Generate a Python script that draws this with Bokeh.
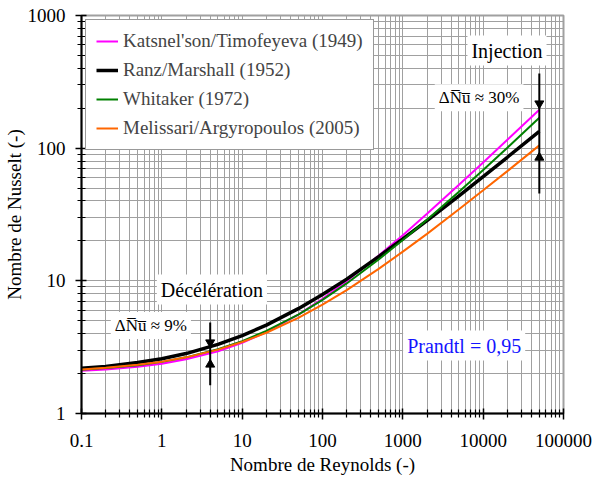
from bokeh.plotting import figure
from bokeh.models import FixedTicker, CustomJSTickFormatter, Legend, LegendItem, Label
from bokeh.embed import file_html
from bokeh.resources import INLINE

# Reynolds numbers (x) and Nusselt numbers (y)
reynolds = [0.1, 0.2, 0.5, 1, 2, 5, 10, 20, 50, 100, 200, 500, 1000, 2000, 5000, 10000, 20000, 50000]
nu_katsnelson = [2.10, 2.15, 2.25, 2.37, 2.56, 2.94, 3.41, 4.10, 5.57, 7.32, 9.94, 15.5, 22.1, 32.0, 53.0, 78.1, 115.6, 195.0]
nu_ranz = [2.19, 2.26, 2.42, 2.59, 2.83, 3.32, 3.87, 4.64, 6.17, 7.90, 10.3, 15.2, 20.7, 28.4, 43.7, 61.0, 85.4, 134.0]
nu_whitaker = [2.14, 2.20, 2.31, 2.45, 2.65, 3.05, 3.51, 4.19, 5.57, 7.19, 9.56, 14.5, 20.3, 28.9, 46.9, 68.5, 100.8, 169.5]
nu_melissari = [2.15, 2.21, 2.33, 2.46, 2.65, 3.03, 3.46, 4.06, 5.26, 6.61, 8.51, 12.3, 16.6, 22.6, 34.6, 48.1, 67.1, 105.0]

series_labels = ["Katsnel'son/Timofeyeva (1949)", "Ranz/Marshall (1952)", "Whitaker (1972)", "Melissari/Argyropoulos (2005)"]
series_colors = ["#FF00FF", "#000000", "#008000", "#FF6600"]
series_widths = [2, 3.5, 2, 2]

x_major = [0.1, 1, 10, 100, 1000, 10000, 100000]
y_major = [1, 10, 100, 1000]

FONT = "Liberation Serif"

p = figure(width=595, height=481, x_axis_type="log", y_axis_type="log",
           x_range=(0.1, 100000), y_range=(1, 1000),
           output_backend="svg", toolbar_location=None,
           min_border_left=78, min_border_right=32, min_border_top=15, min_border_bottom=68)

x_minor = [k * d for d in [0.1, 1, 10, 100, 1000, 10000] for k in range(2, 10)]
y_minor = [k * d for d in [1, 10, 100] for k in range(2, 10)]
p.xaxis.ticker = FixedTicker(ticks=x_major, minor_ticks=x_minor)
p.yaxis.ticker = FixedTicker(ticks=y_major, minor_ticks=y_minor)
fmt = "return tick < 1 ? tick.toFixed(1) : Math.round(tick).toString();"
p.xaxis.formatter = CustomJSTickFormatter(code=fmt)
p.yaxis.formatter = CustomJSTickFormatter(code=fmt)

for ax in (p.xaxis, p.yaxis):
    ax.axis_line_width = 2
    ax.axis_line_color = "black"
    ax.major_tick_line_color = "black"
    ax.minor_tick_line_color = "black"
    ax.major_tick_line_width = 1.5
    ax.minor_tick_line_width = 1.2
    ax.major_tick_in = 5
    ax.major_tick_out = 6
    ax.minor_tick_in = 4
    ax.minor_tick_out = 4
    ax.major_label_text_font = FONT
    ax.major_label_text_font_size = "19px"
    ax.axis_label_text_font = FONT
    ax.axis_label_text_font_size = "19px"
    ax.axis_label_text_font_style = "normal"
    ax.major_label_text_color = "black"
    ax.axis_label_text_color = "black"
p.xaxis.axis_label = "Nombre de Reynolds (-)"
p.yaxis.axis_label = "Nombre de Nusselt (-)"
p.xaxis.major_label_standoff = 14
p.yaxis.major_label_standoff = 10
p.xaxis.axis_label_standoff = 4
p.yaxis.axis_label_standoff = 0

for g in (p.xgrid, p.ygrid):
    g.grid_line_color = "#a0a0a0"
    g.grid_line_width = 1
    g.minor_grid_line_color = "#a0a0a0"
    g.minor_grid_line_width = 1
p.outline_line_color = "#a0a0a0"
p.outline_line_width = 2

series = [nu_katsnelson, nu_ranz, nu_whitaker, nu_melissari]
renderers = []
for ys, c, w in zip(series, series_colors, series_widths):
    renderers.append(p.line(reynolds, ys, line_color=c, line_width=w))

legend = Legend(items=[LegendItem(label=l, renderers=[r]) for l, r in zip(series_labels, renderers)],
                location="top_left", margin=4, padding=10, spacing=7,
                label_height=22, glyph_height=22, glyph_width=22, label_standoff=5,
                label_text_font=FONT, label_text_font_size="19px",
                border_line_color="#333333", border_line_width=1.5,
                background_fill_color="white", background_fill_alpha=1)
p.add_layout(legend)

# Annotations
ann = [
    ("Décélération", 4.2, 8.6, "20px", "black"),
    ("Injection", 19800, 544, "20px", "black"),
    ("\u0394N\u0305u\u0305 \u2248 9%", 0.73, 4.6, "17px", "black"),
    ("\u0394N\u0305u\u0305 \u2248 30%", 8900, 240, "17px", "black"),
    ("Prandtl = 0,95", 5800, 3.25, "20px", "#1414ff"),
]
for t, x, y, fs, col in ann:
    p.add_layout(Label(x=x, y=y, text=t, text_align="center", text_baseline="middle",
                       text_font=FONT, text_font_size=fs, text_color=col,
                       background_fill_color="white", background_fill_alpha=1, padding=4))

# Difference arrows
arrow_x = [4, 50000]
arrow_top = [4.85, 365]
arrow_bottom = [1.63, 45.5]
arrow_down_tip = [3.43, 217]
arrow_up_tip = [2.34, 85]
p.segment(x0=arrow_x, y0=arrow_bottom, x1=arrow_x, y1=arrow_top, line_color="black", line_width=2)
p.scatter(arrow_x, arrow_down_tip, marker="inverted_triangle", size=9, color="black")
p.scatter(arrow_x, arrow_up_tip, marker="triangle", size=9, color="black")

open("out.html", "w").write(file_html(p, INLINE))
